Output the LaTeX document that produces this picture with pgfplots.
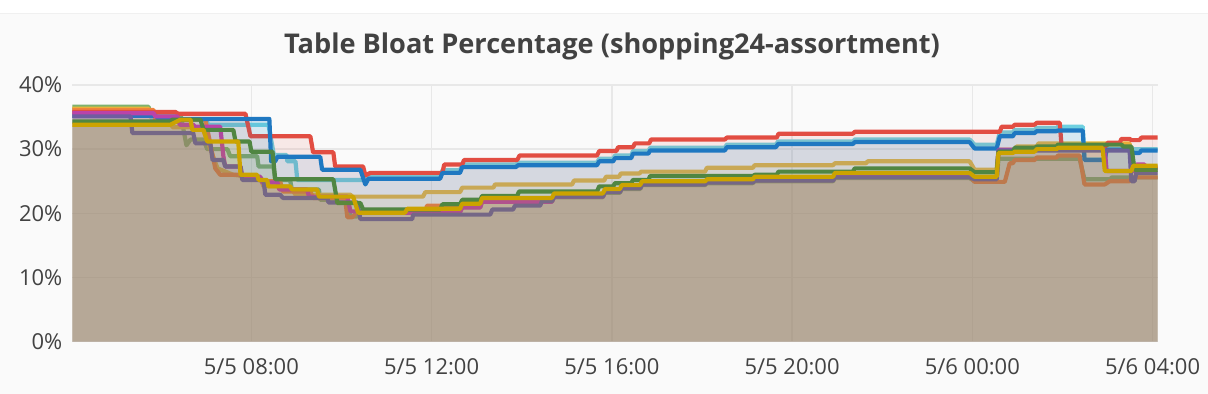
\documentclass[border=0pt]{standalone}
\usepackage{fontspec}
\setmainfont{Open Sans}
\usepackage{pgfplots}
\usepackage{pgfplotstable}
\pgfplotsset{compat=1.18}
\definecolor{cLG}{HTML}{7EB26D}
\definecolor{cYL}{HTML}{EAB839}
\definecolor{cLB}{HTML}{6ED0E0}
\definecolor{cOR}{HTML}{EF843C}
\definecolor{cRD}{HTML}{E24D42}
\definecolor{cBL}{HTML}{1F78C1}
\definecolor{cMG}{HTML}{BA43A9}
\definecolor{cVI}{HTML}{705DA0}
\definecolor{cDG}{HTML}{508642}
\definecolor{cDY}{HTML}{CCA300}
\definecolor{txt}{RGB}{66,66,66}
\definecolor{panel}{RGB}{250,250,250}
\definecolor{gridc}{RGB}{232,232,232}

\pgfplotstableread{
x y
4.03 36.6
5.72 36.6
5.76 35.4
6.43 35.4
6.56 30.6
6.65 31.5
6.94 31.5
7.02 30.0
7.47 30.0
7.53 28.9
8.13 28.9
8.16 27.3
8.49 27.3
8.53 25.2
8.86 25.2
8.90 23.7
9.50 23.7
9.53 22.1
10.13 22.1
10.20 19.5
10.35 19.5
10.42 20.3
12.24 20.3
12.28 21.0
13.08 21.0
13.12 21.8
14.67 21.8
14.72 22.5
15.80 22.5
15.85 23.2
16.18 23.2
16.22 23.8
16.63 23.8
16.67 24.4
18.07 24.4
18.11 24.7
19.13 24.7
19.17 25.0
20.91 25.0
20.95 25.5
23.94 25.5
24.05 25.0
24.54 25.0
24.58 28.5
26.38 28.5
26.49 25.3
27.05 25.3
27.10 25.6
28.11 25.6
}\tLG

\pgfplotstableread{
x y
4.03 36.3
5.72 36.3
5.76 35.0
6.20 35.0
6.25 33.4
6.91 33.4
7.25 27.0
7.60 26.0
8.20 25.5
8.27 24.2
8.86 24.2
8.98 22.9
10.20 22.9
10.24 22.6
11.81 22.6
11.86 23.3
12.63 23.3
12.68 24.0
13.37 24.0
13.41 24.5
15.12 24.5
15.16 25.1
15.83 25.1
15.87 25.7
16.16 25.7
16.20 26.2
16.61 26.2
16.65 26.5
18.07 26.5
18.11 27.1
19.13 27.1
19.17 27.5
20.91 27.5
20.95 27.8
21.64 27.8
21.68 28.1
23.94 28.1
24.05 26.8
24.54 26.8
24.58 29.9
24.94 29.9
24.98 30.4
25.43 30.4
25.47 30.9
27.49 30.9
27.53 27.2
28.11 27.2
}\tYL

\pgfplotstableread{
x y
4.03 36.0
5.76 36.0
5.80 34.6
7.00 34.6
7.04 33.8
8.38 33.8
8.50 29.1
8.78 29.1
8.80 28.1
8.98 28.1
9.02 25.2
10.46 25.2
10.53 25.7
12.19 25.7
12.24 26.7
12.63 26.7
12.68 27.6
13.87 27.6
13.92 27.9
15.67 27.9
15.72 28.5
16.03 28.5
16.07 29.0
16.43 29.0
16.47 29.7
16.81 29.7
16.85 30.2
18.51 30.2
18.55 30.7
19.64 30.7
19.69 31.2
21.35 31.2
21.39 31.5
23.94 31.5
24.05 30.7
24.54 30.7
24.61 32.6
24.90 32.6
24.94 33.0
25.38 33.0
25.43 33.3
25.87 33.3
25.90 33.5
26.45 33.5
26.49 28.4
26.94 28.4
26.98 30.0
28.11 30.0
}\tLB

\pgfplotstableread{
x y
4.03 36.1
5.83 36.1
5.87 34.6
6.98 34.6
7.20 27.0
7.31 26.0
7.76 26.0
7.80 25.5
8.20 25.5
8.27 25.0
8.64 25.0
8.70 23.4
9.31 23.4
9.37 22.4
10.08 22.4
10.13 19.4
10.24 19.4
10.37 20.3
11.86 20.3
11.90 21.2
13.08 21.2
13.12 22.1
14.67 22.1
14.72 22.8
15.80 22.8
15.85 23.5
16.18 23.5
16.22 24.1
16.63 24.1
16.67 24.7
18.07 24.7
18.11 25.0
19.13 25.0
19.17 25.3
20.91 25.3
20.95 25.8
23.94 25.8
24.05 24.9
24.72 24.9
24.83 27.8
24.90 27.8
24.94 28.3
25.38 28.3
25.43 28.7
25.87 28.7
25.90 29.0
26.38 29.0
26.49 24.5
26.94 24.5
27.05 25.0
27.49 25.0
27.53 25.6
28.11 25.6
}\tOR

\pgfplotstableread{
x y
4.03 35.8
6.31 35.8
6.38 35.5
7.87 35.5
7.98 32.0
9.31 32.0
9.37 29.5
9.82 29.5
9.86 27.3
10.48 27.3
10.53 25.9
10.64 26.3
12.24 26.3
12.28 27.6
12.68 27.6
12.72 28.3
13.90 28.3
13.95 29.0
15.67 29.0
15.72 29.7
16.10 29.7
16.14 30.3
16.47 30.3
16.51 30.9
16.83 30.9
16.87 31.5
18.51 31.5
18.55 31.8
19.66 31.8
19.70 32.4
21.35 32.4
21.39 32.7
24.61 32.7
24.65 33.5
24.90 33.5
24.94 33.8
25.38 33.8
25.43 34.1
25.94 34.1
25.98 30.5
26.98 30.5
27.00 31.0
27.27 31.0
27.31 31.6
27.49 31.6
27.53 31.4
27.71 31.4
27.75 31.8
28.11 31.8
}\tRD

\pgfplotstableread{
x y
4.03 35.2
5.87 35.2
5.95 34.7
8.40 34.7
8.44 28.1
8.53 28.1
8.58 28.8
9.53 28.8
9.57 26.8
10.42 26.8
10.53 24.5
10.60 25.4
12.19 25.4
12.24 26.3
12.63 26.3
12.68 27.2
13.87 27.2
13.92 27.5
15.67 27.5
15.72 28.1
16.03 28.1
16.07 28.6
16.43 28.6
16.47 29.3
16.81 29.3
16.85 29.8
18.51 29.8
18.55 30.3
19.64 30.3
19.69 30.8
21.35 30.8
21.39 31.1
23.94 31.1
24.05 30.1
24.54 30.1
24.61 32.0
24.90 32.0
24.94 32.5
25.38 32.5
25.43 32.8
25.87 32.8
25.90 32.9
26.45 32.9
26.49 28.3
26.94 28.3
26.98 29.9
27.53 29.9
27.57 29.4
27.71 29.4
27.75 29.8
28.11 29.8
}\tBL

\pgfplotstableread{
x y
4.03 35.6
5.83 35.6
5.87 35.1
6.36 35.1
6.41 33.8
6.71 33.8
6.75 33.5
7.31 33.5
7.38 28.9
7.42 27.3
7.76 27.3
7.80 25.7
8.20 25.7
8.24 24.8
8.58 24.8
8.62 23.7
9.24 23.7
9.28 22.6
10.13 22.6
10.20 20.3
10.42 20.3
10.46 20.1
12.63 20.1
12.68 20.9
13.08 20.9
13.12 21.8
14.67 21.8
14.72 22.6
15.80 22.6
15.85 23.4
16.18 23.4
16.22 24.0
16.63 24.0
16.67 24.6
18.07 24.6
18.11 24.9
19.13 24.9
19.17 25.2
20.91 25.2
20.95 25.7
23.94 25.7
24.05 25.5
24.54 25.5
24.58 29.9
26.94 29.9
26.98 26.6
27.60 26.6
27.64 27.6
27.82 27.6
27.86 27.0
28.11 27.0
}\tMG

\pgfplotstableread{
x y
4.03 35.1
5.32 35.1
5.36 32.5
6.71 32.5
6.76 30.9
7.09 30.9
7.14 28.3
7.38 28.3
7.42 27.3
7.76 27.3
7.80 25.2
8.27 25.2
8.31 22.9
8.64 22.9
8.70 22.4
9.69 22.4
9.71 21.7
10.35 21.7
10.42 19.1
11.57 19.1
11.59 19.8
13.30 19.8
13.35 20.6
13.81 20.6
13.85 21.2
14.41 21.2
14.45 21.9
14.67 21.9
14.72 22.6
15.80 22.6
15.85 23.3
16.18 23.3
16.22 23.9
16.63 23.9
16.67 24.5
18.07 24.5
18.11 24.8
19.13 24.8
19.17 25.1
20.91 25.1
20.95 25.6
23.94 25.6
24.05 25.3
24.54 25.3
24.58 29.8
27.49 29.8
27.53 25.0
27.60 25.0
27.64 26.3
28.11 26.3
}\tVI

\pgfplotstableread{
x y
4.03 34.3
6.20 34.3
6.25 34.6
6.87 34.6
6.94 33.0
7.60 33.0
7.65 31.2
7.96 31.2
8.00 29.6
8.47 29.6
8.53 25.3
9.82 25.3
9.91 21.6
10.42 21.6
10.48 20.6
12.19 20.6
12.24 21.4
12.63 21.4
12.68 22.1
13.08 22.1
13.12 22.7
13.90 22.7
13.94 23.4
15.67 23.4
15.72 24.2
16.03 24.2
16.07 24.7
16.43 24.7
16.47 25.2
16.81 25.2
16.85 25.8
19.13 25.8
19.17 26.0
19.66 26.0
19.70 26.5
21.35 26.5
21.39 27.0
23.94 27.0
24.05 26.4
24.54 26.4
24.58 29.6
24.90 29.6
24.94 30.2
25.38 30.2
25.43 30.4
25.87 30.4
25.90 30.7
27.31 30.7
27.35 30.4
27.53 30.4
27.60 26.8
28.11 26.8
}\tDG

\pgfplotstableread{
x y
4.03 33.8
6.20 33.8
6.43 34.6
6.65 34.6
6.69 33.0
6.94 33.0
7.02 31.2
7.71 31.2
7.76 26.0
8.13 26.0
8.16 25.2
8.35 25.2
8.38 24.2
8.86 24.2
8.90 23.7
9.46 23.7
9.50 22.6
10.26 22.6
10.37 20.1
11.41 20.1
11.46 20.7
12.63 20.7
12.68 21.5
13.08 21.5
13.12 22.4
14.67 22.4
14.72 23.1
15.80 23.1
15.85 23.8
16.18 23.8
16.22 24.4
16.63 24.4
16.67 25.0
18.07 25.0
18.11 25.3
19.13 25.3
19.17 25.7
20.91 25.7
20.95 26.3
23.94 26.3
24.05 25.7
24.54 25.7
24.58 29.4
24.90 29.4
24.94 29.6
25.38 29.6
25.43 30.0
25.87 30.0
25.90 30.2
26.89 30.2
26.94 26.6
27.53 26.6
27.57 27.4
28.11 27.4
}\tDY

\newcommand{\series}[2]{%
  \addplot[draw=none, fill=#1, fill opacity=0.1, forget plot] table {#2} \closedcycle;
  \addplot[color=#1, line width=4.2pt, line join=round] table {#2};
}

\begin{document}
\begin{tikzpicture}
\fill[white] (0pt,0pt) rectangle (1208pt,394pt);
\fill[panel] (0pt,0pt) rectangle (1208pt,380pt);
\draw[black!6, line width=1pt] (0pt,380pt) -- (1208pt,380pt);
\node[font=\bfseries\fontsize{27.2}{32}\selectfont, text=txt] at (612pt,348pt) {Table Bloat Percentage (shopping24-assortment)};
\begin{axis}[
  at={(72pt,52pt)}, anchor=south west,
  scale only axis, width=1086pt, height=257pt,
  xmin=4.03, xmax=28.11, ymin=0, ymax=40,
  xtick={8,12,16,20,24,28},
  xticklabels={5/5 08:00,5/5 12:00,5/5 16:00,5/5 20:00,5/6 00:00,5/6 04:00},
  ytick={0,10,20,30,40},
  yticklabels={0\%,10\%,20\%,30\%,40\%},
  /pgf/number format/assume math mode=true,
  ticklabel style={font=\fontsize{22}{26}\selectfont, text=txt, inner sep=0pt},
  yticklabel style={anchor=east, xshift=-10pt},
  xticklabel style={anchor=north, yshift=-17pt},
  grid=major, grid style={gridc, line width=1.4pt},
  axis line style={draw=none}, tick style={draw=none},
  clip=true,
]
\series{cLG}{\tLG}
\series{cYL}{\tYL}
\series{cLB}{\tLB}
\series{cOR}{\tOR}
\series{cRD}{\tRD}
\series{cBL}{\tBL}
\series{cMG}{\tMG}
\series{cVI}{\tVI}
\series{cDG}{\tDG}
\series{cDY}{\tDY}
\end{axis}
\end{tikzpicture}
\end{document}
